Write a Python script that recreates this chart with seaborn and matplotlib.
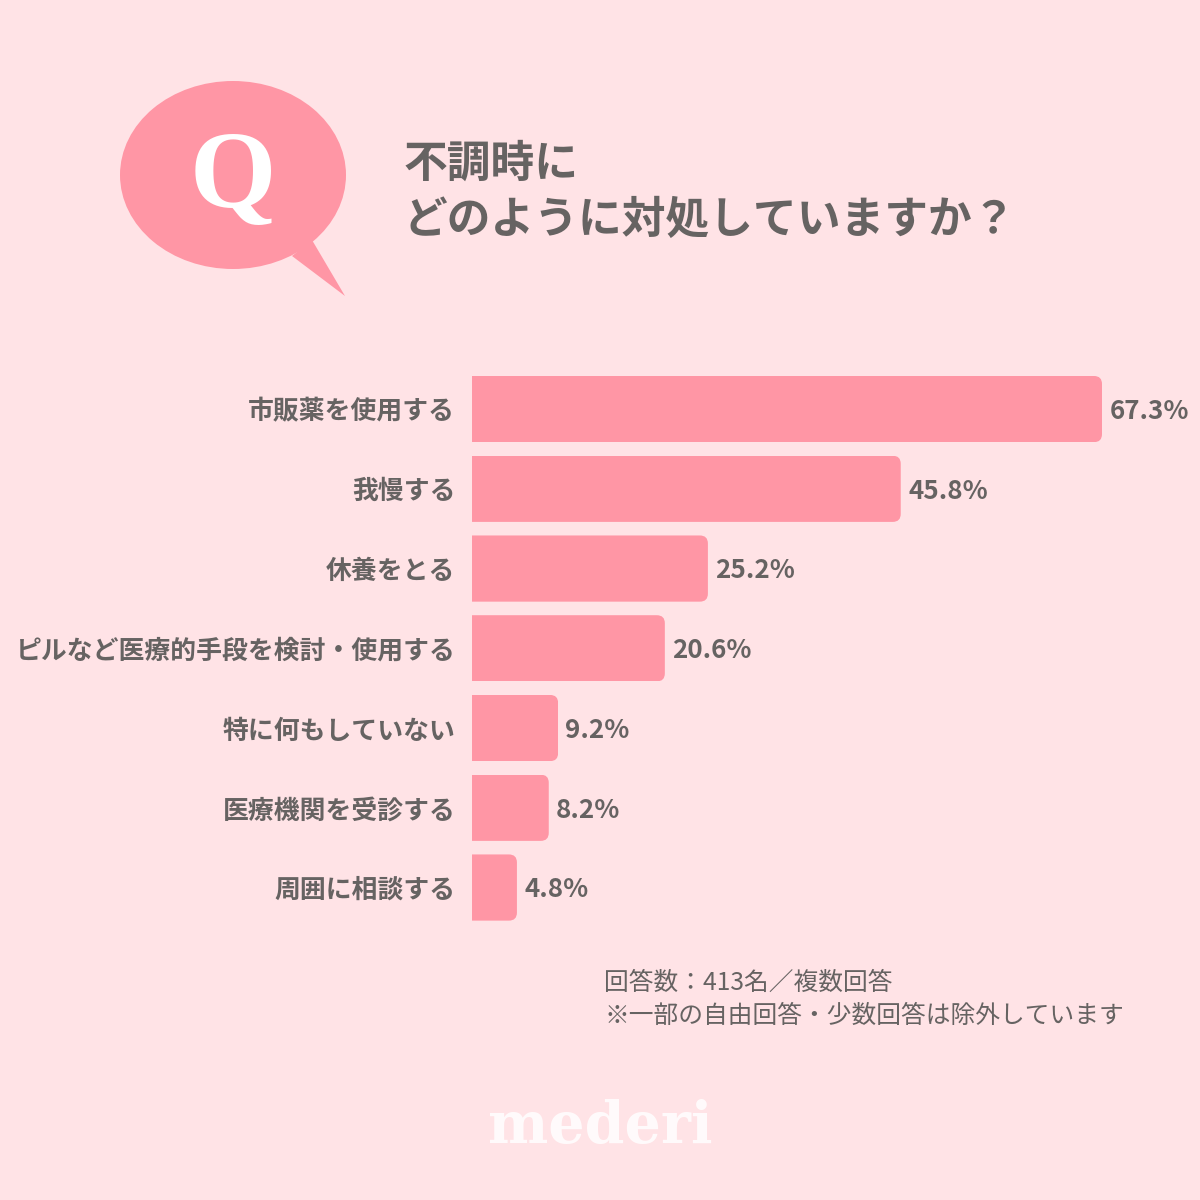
import matplotlib
matplotlib.use("Agg")
import matplotlib.pyplot as plt
import seaborn as sns
import pandas as pd
from matplotlib.patches import Ellipse, Polygon, FancyBboxPatch
from matplotlib.transforms import IdentityTransform

categories = ["市販薬を使用する", "我慢する", "休養をとる", "ピルなど医療的手段を検討・使用する",
              "特に何もしていない", "医療機関を受診する", "周囲に相談する"]
values = [67.3, 45.8, 25.2, 20.6, 9.2, 8.2, 4.8]
title_lines = "不調時に\nどのように対処していますか？"
note_1 = "回答数：413名／複数回答"
note_2 = "※一部の自由回答・少数回答は除外しています"

BG, PINK, GREY = "#FFE3E6", "#FF96A5", "#666362"
JP = ["Noto Sans CJK JP", "DejaVu Sans"]
W = H = 1200
sns.set_theme(style="white")
plt.rcParams["font.family"] = JP

fig = plt.figure(figsize=(12, 12), dpi=100, facecolor=BG)

def rect(l, t, r, b):
    return [l / W, 1 - b / H, (r - l) / W, (b - t) / H]

# page-level decorations, in pixel coordinates
bg = fig.add_axes([0, 0, 1, 1])
bg.set_xlim(0, W); bg.set_ylim(H, 0); bg.axis("off")
bg.add_patch(Ellipse((233, 175), 226, 188, fc=PINK, ec="none"))
bg.add_patch(Polygon([(312, 240), (345, 296), (292, 256)], fc=PINK, ec="none"))
bg.text(233, 180, "Q", family="Liberation Serif", fontweight="bold", color="white", fontsize=80,
        ha="center", va="center")
bg.text(404, 192, title_lines, color=GREY, fontsize=31.5, fontweight="bold",
        ha="left", va="center", linespacing=1.33)
bg.text(604, 983, note_1, color=GREY, fontsize=17.8, ha="left", va="center")
bg.text(604, 1016, note_2, color=GREY, fontsize=17.8, ha="left", va="center")
bg.text(600, 1127, "mederi", family="DejaVu Serif", fontweight="bold", color="white",
        fontsize=41, ha="center", va="center", alpha=0.85)

# bars
px_per_pct = (1102 - 472) / 67.3
ax = fig.add_axes(rect(472, 369.2, 472 + 100 * px_per_pct, 927.4))
ax.patch.set_alpha(0)
df = pd.DataFrame({"label": categories, "value": values})
sns.barplot(df, x="value", y="label", color=PINK, saturation=1, width=0.83, ax=ax)
ax.set_xlim(0, 100)
ax.set_ylim(6.5, -0.5)
ax.set_xlabel(""); ax.set_ylabel(""); ax.set_xticks([])
sns.despine(ax=ax, left=True, bottom=True)
ax.tick_params(axis="y", length=0, pad=12)
for t in ax.get_yticklabels():
    t.set_fontsize(18.6); t.set_fontweight("bold"); t.set_color(GREY)

fig.canvas.draw()
for bar in ax.patches:
    bar.set_edgecolor("none")
    box = bar.get_window_extent()
    r = 8
    clip = FancyBboxPatch((box.x0 - 40, box.y0), box.width + 40, box.height,
                          boxstyle=f"round,pad=0,rounding_size={r}",
                          transform=IdentityTransform())
    bar.set_clip_path(clip)
labels = ax.bar_label(ax.containers[0], labels=[f"{v:.1f}%" for v in values], padding=5.3,
                      color=GREY, fontsize=18.7, fontweight="bold", family="Noto Sans CJK JP")
for lab in labels:
    lab.xyann = (lab.xyann[0], lab.xyann[1] - 1.6)

fig.savefig("out.png", dpi=100, facecolor=BG)
